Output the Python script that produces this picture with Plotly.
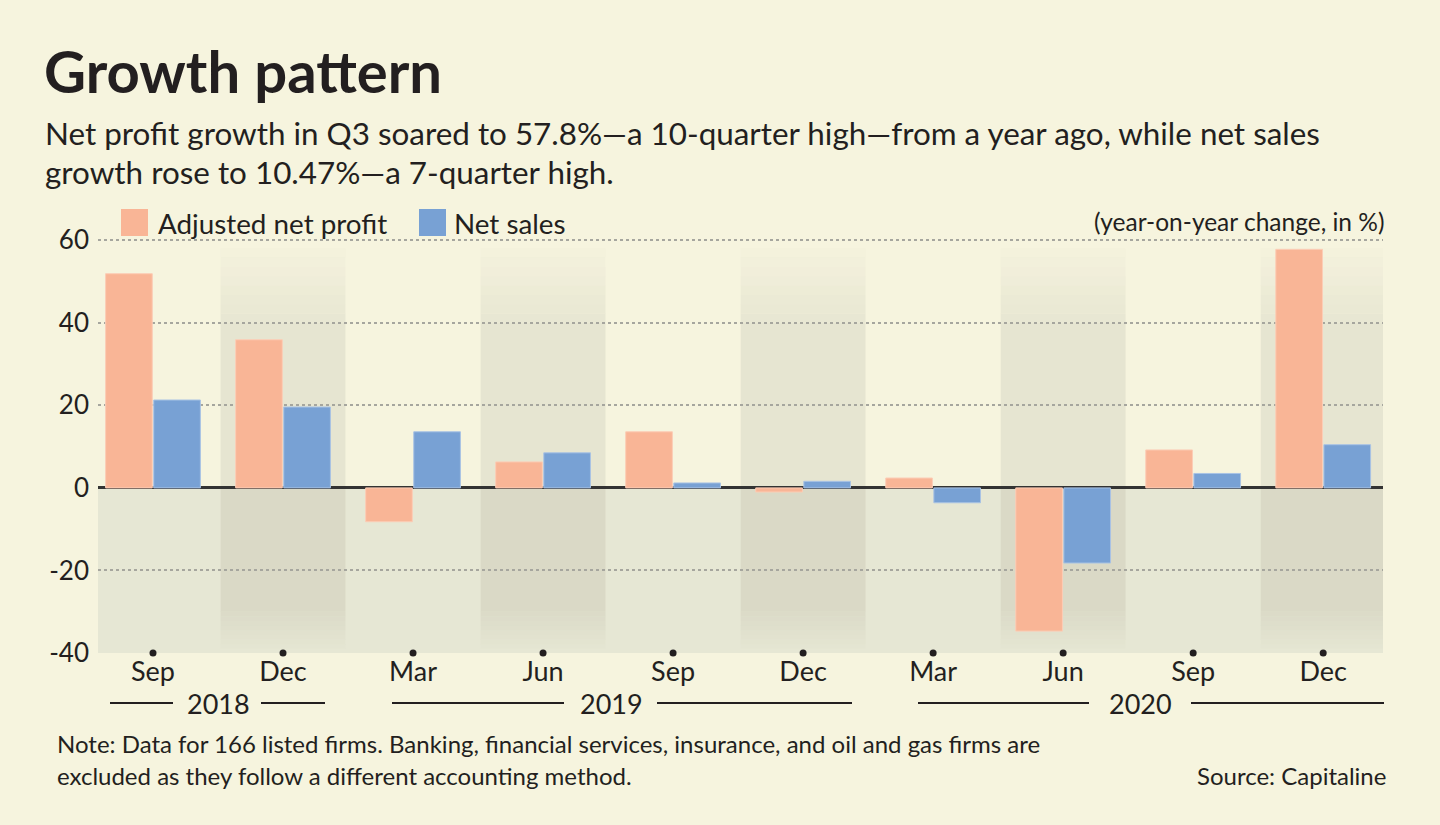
import plotly.graph_objects as go

# quarters and values (year-on-year change, %)
quarters = ["Sep", "Dec", "Mar", "Jun", "Sep", "Dec", "Mar", "Jun", "Sep", "Dec"]
years = ["2018", "2018", "2019", "2019", "2019", "2019", "2020", "2020", "2020", "2020"]
net_profit = [51.9, 35.9, -8.2, 6.3, 13.6, -1.0, 2.4, -34.7, 9.2, 57.8]
net_sales = [21.3, 19.6, 13.6, 8.5, 1.2, 1.6, -3.6, -18.2, 3.5, 10.47]
y_ticks = [-40, -20, 0, 20, 40, 60]
y_ticktext = ["-40", "-20", "0", "20", "40", "60"]

PINK = "#F9B596"
BLUE = "#78A1D4"
BG = "#F6F4DE"
INK = "#231F20"
FONT = "Lato"

W, H = 1440, 825
L, R, T, B = 98, 57, 232, 172
pw, ph = W - L - R, H - T - B


def px(x):
    return (x - L) / pw


def py(y):
    return (H - B - y) / ph


xs = list(range(len(quarters)))

fig = go.Figure()

fig.add_trace(go.Bar(x=xs, y=net_profit, name="Adjusted net profit",
                     marker=dict(color=PINK, line=dict(color="#FCCDB6", width=1)),
                     showlegend=False))
fig.add_trace(go.Bar(x=xs, y=net_sales, name="Net sales",
                     marker=dict(color=BLUE, line=dict(color="#A9C3E4", width=1)),
                     showlegend=False))
# tick dots at the bottom
fig.add_trace(go.Scatter(x=xs, y=[y_ticks[0]] * len(xs), mode="markers",
                         marker=dict(color=INK, size=7), cliponaxis=False,
                         showlegend=False, hoverinfo="skip"))

shapes = []
# tint below zero
shapes.append(dict(type="rect", xref="x domain", yref="y", x0=0, x1=1, y0=0, y1=-40,
                   fillcolor="#E6E7D4", line_width=0, layer="below"))
# alternating bands with soft fade
for i in range(1, len(quarters), 2):
    x0, x1 = i - 0.48, i + 0.48
    shapes.append(dict(type="rect", xref="x", yref="y", x0=x0, x1=x1, y0=0, y1=40,
                       fillcolor="#E6E5D1", line_width=0, layer="below"))
    steps = 8
    for k in range(steps):
        a = 1 - (k + 1) / (steps + 1)
        shapes.append(dict(type="rect", xref="x", yref="y", x0=x0, x1=x1,
                           y0=40 + k * 18 / steps, y1=40 + (k + 1) * 18 / steps,
                           fillcolor="#E6E5D1", opacity=a, line_width=0, layer="below"))
    shapes.append(dict(type="rect", xref="x", yref="y", x0=x0, x1=x1, y0=0, y1=-30,
                       fillcolor="#DAD9C6", line_width=0, layer="below"))
    for k in range(steps):
        a = 1 - (k + 1) / (steps + 1)
        shapes.append(dict(type="rect", xref="x", yref="y", x0=x0, x1=x1,
                           y0=-30 - k * 9 / steps, y1=-30 - (k + 1) * 9 / steps,
                           fillcolor="#DAD9C6", opacity=a, line_width=0, layer="below"))

# legend squares
shapes.append(dict(type="rect", xref="paper", yref="paper", x0=px(121), x1=px(148),
                   y0=py(236), y1=py(209), fillcolor=PINK, line_width=0))
shapes.append(dict(type="rect", xref="paper", yref="paper", x0=px(419), x1=px(446),
                   y0=py(236), y1=py(209), fillcolor=BLUE, line_width=0))

# year rules
for a, b in [(110, 173), (261, 325), (392, 564), (657, 852), (918, 1089), (1191, 1384)]:
    shapes.append(dict(type="line", xref="paper", yref="paper", x0=px(a), x1=px(b),
                       y0=py(703), y1=py(703), line=dict(color=INK, width=2)))

ann = []


def text(t, x, y, size, anchor="left", bold=False):
    ann.append(dict(text=f"<b>{t}</b>" if bold else t, x=px(x), y=py(y),
                    xref="paper", yref="paper", xanchor=anchor, yanchor="middle",
                    showarrow=False, font=dict(family=FONT, size=size, color=INK)))


text("Growth pattern", 42, 70, 58, bold=True)
text("Net profit growth in Q3 soared to 57.8%\u2014a 10-quarter high\u2014from a year ago, while net sales",
     43, 133, 31.4)
text("growth rose to 10.47%\u2014a 7-quarter high.", 43, 172, 31.4)
text("Adjusted net profit", 156, 224, 27.8)
text("Net sales", 452, 224, 27.8)
text("(year-on-year change, in %)", 1386, 222, 24.5, anchor="right")
text("2018", 218, 703, 27, anchor="center")
text("2019", 611, 703, 27, anchor="center")
text("2020", 1140, 703, 27, anchor="center")
text("Note: Data for 166 listed firms. Banking, financial services, insurance, and oil and gas firms are",
     55, 743, 24)
text("excluded as they follow a different accounting method.", 55, 775, 24)
text("Source: Capitaline", 1388, 775, 24, anchor="right")

fig.update_layout(
    width=W, height=H,
    margin=dict(l=L, r=R, t=T, b=B),
    paper_bgcolor=BG, plot_bgcolor=BG,
    barmode="group", bargap=0.26, bargroupgap=0.03,
    shapes=shapes, annotations=ann,
    font=dict(family=FONT, color=INK),
)
fig.update_xaxes(range=[-0.423, 9.46], tickvals=xs, ticktext=quarters,
                 showgrid=False, zeroline=False, showline=False, ticks="",
                 tickfont=dict(size=27, color=INK, family=FONT))
fig.update_yaxes(range=[-40, 62], tickvals=y_ticks, ticktext=y_ticktext,
                 showgrid=True, gridcolor="#A6A69E", griddash="dot", gridwidth=1.5,
                 zeroline=True, zerolinecolor="#333333", zerolinewidth=3,
                 ticks="", ticklabelstandoff=8,
                 tickfont=dict(size=26, color=INK, family=FONT))

fig.write_html("out.html", config={"displayModeBar": False},
               post_script="document.body.style.margin='0';")
